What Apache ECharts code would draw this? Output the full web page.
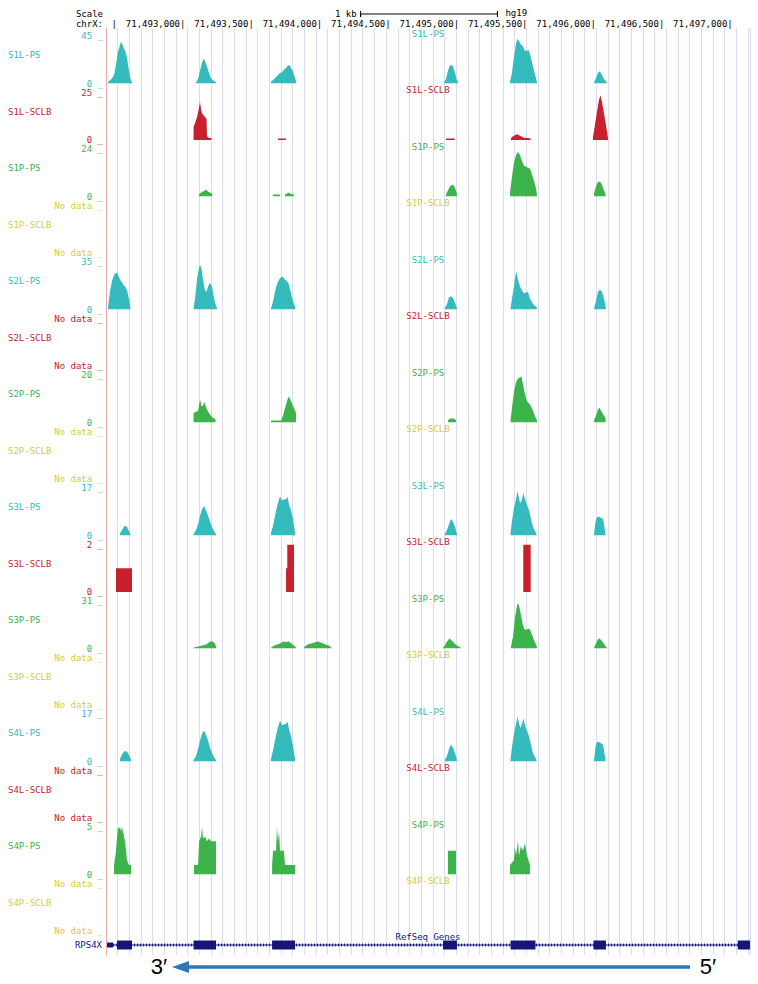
<!DOCTYPE html>
<html><head><meta charset="utf-8">
<script src="https://cdn.jsdelivr.net/npm/echarts@6/dist/echarts.min.js"></script>
<style>html,body{margin:0;padding:0;background:#fff}#c{width:758px;height:984px}</style>
</head><body><div id="c"></div>
<script>
// ---------------- DATA ----------------
const CHROM = 'chrX';
const ASSEMBLY = 'hg19';
const BASE = 71492000;               // positions below are bp offsets from chrX:71,492,000
const VIEW = [439, 5146];            // visible window
const RULER_TICKS = [500, 1000, 1500, 2000, 2500, 3000, 3500, 4000, 4500, 5000];
const SCALE_BAR = [2300, 3300];      // 1 kb

const trackNames = ['S1L-PS','S1L-SCLB','S1P-PS','S1P-SCLB','S2L-PS','S2L-SCLB','S2P-PS','S2P-SCLB',
                    'S3L-PS','S3L-SCLB','S3P-PS','S3P-SCLB','S4L-PS','S4L-SCLB','S4P-PS','S4P-SCLB'];
const trackMax   = [45, 25, 24, null, 35, null, 20, null, 17, 2, 31, null, 17, null, 5, null];

const S1L_PS = [
 [[454,2],[469,3],[483,5],[498,8],[512,18],[527,30],[542,37],[549,39.6],[556,38],[564,35],[571,33],[578,31],[586,28],[593,24],[600,18],[607,12],[615,6],[622,3],[629,1]],
 [[1097,1],[1112,4],[1126,12],[1141,20],[1152,23.5],[1163,21],[1177,16],[1192,10],[1207,5],[1221,3],[1236,2],[1243,1]],
 [[1645,2],[1667,4],[1689,7],[1711,10],[1726,11],[1740,13],[1755,15],[1770,17],[1780,17.5],[1791,15],[1806,11],[1821,5],[1831,1]],
 [[2909,1],[2924,4],[2938,12],[2953,17],[2964,17.8],[2975,16],[2990,10],[3004,3],[3012,1]],
 [[3392,2],[3406,10],[3421,25],[3436,38],[3447,42.5],[3458,40],[3472,37],[3487,35],[3501,31],[3516,31],[3527,32],[3538,28],[3553,20],[3567,12],[3582,5],[3589,1]],
 [[4006,1],[4020,5],[4035,10],[4046,11.5],[4057,10],[4072,6],[4086,3],[4101,1]]
];
const S1L_SCLB = [
 [[1079,7],[1090,9],[1104,12],[1119,17],[1126,20],[1134,16],[1141,14],[1152,13],[1163,12],[1174,11],[1177,2],[1192,1],[1210,1]],
 [[1696,0.8],[1755,0.8]],
 [[2924,0.8],[2988,0.8]],
 [[3399,1],[3414,2],[3428,2.5],[3443,3],[3458,2.5],[3472,2],[3494,1.2],[3523,1],[3542,0.8]],
 [[3998,1.5],[4013,8],[4028,15],[4042,21],[4053,23.5],[4064,20],[4079,14],[4093,8],[4104,3],[4108,1]]
];
const S1P_PS = [
 [[1119,1],[1134,2],[1148,2.5],[1163,3],[1170,3.5],[1185,2.5],[1199,2],[1214,1.5]],
 [[1658,1],[1711,1]],
 [[1747,1],[1762,1.5],[1773,2],[1784,1.5],[1799,1.2],[1813,1]],
 [[2924,1],[2938,3],[2953,5],[2968,6],[2982,5.5],[2997,3],[3004,1]],
 [[3392,2],[3406,10],[3421,17],[3436,21],[3450,22.5],[3465,21],[3480,18],[3494,15.5],[3509,15],[3523,14.5],[3538,14],[3553,11],[3567,8],[3582,4],[3589,1]],
 [[4006,1.5],[4020,5],[4035,7.5],[4050,7.5],[4064,6],[4079,3],[4090,1]]
];
const S2L_PS = [
 [[454,2],[469,14],[483,21],[494,24.5],[505,26.5],[520,27.2],[534,24],[542,22],[556,20],[567,18],[578,17],[593,14],[607,8],[618,1]],
 [[1079,1],[1090,8],[1104,22],[1119,31],[1126,33],[1137,30],[1148,22],[1163,14],[1174,13],[1185,17],[1199,19.5],[1214,17],[1229,8],[1243,3],[1250,1]],
 [[1645,1],[1660,6],[1674,13],[1689,19],[1704,22],[1718,24],[1733,24],[1747,22],[1762,21],[1777,18],[1791,12],[1806,6],[1821,2]],
 [[2916,1],[2931,4],[2946,9],[2960,9.7],[2975,8.5],[2990,5],[3004,1]],
 [[3396,1],[3406,8],[3421,17],[3432,25],[3439,28],[3450,22],[3465,17],[3480,14],[3494,12],[3509,12.5],[3523,13],[3538,8],[3560,4],[3582,2],[3589,1]],
 [[4006,1],[4020,6],[4035,13],[4050,14.5],[4064,13],[4079,8],[4093,1]]
];
const S2P_PS = [
 [[1079,4],[1097,4.5],[1112,5],[1126,9.8],[1137,7],[1148,7],[1156,8.8],[1167,7],[1177,5.5],[1192,4],[1207,2.7],[1221,2],[1240,1.3]],
 [[1645,0.8],[1718,0.8],[1733,3],[1747,6],[1762,9],[1773,11],[1784,10],[1799,8],[1813,6],[1828,4]],
 [[2938,1],[2953,1.7],[2982,1.7],[2997,1]],
 [[3396,1],[3406,6],[3421,13],[3436,17],[3450,18.5],[3465,19],[3476,19.5],[3487,16],[3501,12],[3516,9],[3531,8],[3545,7],[3560,5],[3575,2.5],[3589,1]],
 [[4006,1],[4020,3],[4035,5.5],[4046,6.2],[4057,5],[4072,3.5],[4090,2]]
];
const S3L_PS = [
 [[542,0.8],[556,2],[571,3.2],[582,3.5],[593,3],[607,1.5],[618,0.5]],
 [[1079,0.5],[1097,2],[1112,4],[1126,7],[1141,9.5],[1156,10.6],[1170,9],[1185,7],[1199,5],[1214,3],[1229,1.5],[1243,0.5]],
 [[1645,1],[1660,3.5],[1674,7],[1689,10.5],[1704,13],[1711,14],[1726,12.5],[1740,13],[1755,13],[1766,13.8],[1777,11],[1791,9],[1806,6],[1821,0.8]],
 [[2916,0.5],[2931,2],[2946,4],[2960,5.9],[2975,5],[2990,3],[3004,0.5]],
 [[3396,1],[3406,5],[3421,10],[3436,13],[3447,16],[3458,13],[3468,11.5],[3480,13],[3490,15.3],[3501,13],[3516,11],[3531,9],[3545,6],[3560,3],[3575,1.5],[3586,0.5]],
 [[4006,0.5],[4017,5],[4028,6.5],[4042,6.8],[4057,6.3],[4072,6],[4090,0.5]]
];
const S3L_SCLB = [
 [[512,1],[629,1]],
 [[1755,1],[1764,1],[1764,2],[1813,2]],
 [[3489,2],[3543,2]]
];
const S3P_PS = [
 [[1079,0.5],[1097,1],[1119,1.5],[1141,2],[1163,2.5],[1177,3],[1192,4],[1207,4.7],[1221,4.5],[1236,3],[1247,0.5]],
 [[1645,0.5],[1660,1.5],[1682,2.5],[1704,3],[1726,4],[1740,4.5],[1755,4],[1770,4.6],[1784,4],[1799,3],[1813,2],[1828,0.5]],
 [[1886,0.5],[1901,2],[1923,3],[1945,3.5],[1967,4],[1989,4.5],[2003,4],[2025,3.5],[2047,2.5],[2069,2],[2087,0.5]],
 [[2902,0.5],[2916,2],[2931,4.5],[2950,6.5],[2968,5],[2990,3],[3012,1.5],[3034,0.5]],
 [[3399,1],[3414,8],[3428,20],[3443,28],[3450,29.7],[3461,27],[3472,22],[3487,15],[3501,12],[3516,12.5],[3531,13],[3545,11],[3560,7],[3575,4],[3589,1]],
 [[4006,0.5],[4020,3.5],[4035,6],[4046,6.5],[4057,5.5],[4072,4],[4086,2],[4101,0.5]]
];
const S4L_PS = [
 [[542,1],[556,2.5],[571,3.6],[586,3.8],[600,3],[615,1.5],[622,0.5]],
 [[1079,0.5],[1097,2],[1112,4.5],[1126,7.5],[1141,10],[1156,11],[1170,9.5],[1185,7.5],[1199,5],[1214,3],[1229,1.5],[1243,0.5]],
 [[1645,1],[1660,4],[1674,7.5],[1689,11],[1704,13.5],[1711,14.6],[1726,13],[1740,13.3],[1755,13.5],[1766,14.2],[1777,11.5],[1791,9],[1806,5.5],[1821,0.8]],
 [[2916,0.5],[2931,2],[2946,4.5],[2960,6],[2975,5],[2990,3],[3004,0.5]],
 [[3396,1],[3406,5],[3421,10],[3436,13.5],[3447,16],[3458,13.5],[3468,12],[3480,13.5],[3490,15.5],[3501,13],[3516,11],[3531,9],[3545,6],[3560,3],[3575,1.5],[3586,0.5]],
 [[4006,0.5],[4017,5.5],[4028,7],[4042,7],[4057,6.5],[4072,6],[4090,0.5]]
];
const S4P_PS = [
 [[498,1],[512,2.5],[520,4],[527,5],[534,4.8],[542,5],[549,4.5],[556,5],[564,4.5],[571,4],[578,3.5],[586,2.5],[593,1.5],[607,1],[622,1]],
 [[1082,1],[1112,1],[1119,3.5],[1134,4],[1141,5],[1148,3.8],[1163,4],[1177,3.5],[1192,3.8],[1207,3.5],[1221,3.5],[1243,3.5]],
 [[1653,1],[1660,2.5],[1682,2.5],[1689,5],[1696,3.5],[1704,4.5],[1711,2.5],[1740,2.5],[1747,1],[1821,1]],
 [[2938,2.5],[2997,2.5]],
 [[3392,1],[3421,1.5],[3428,3],[3436,2],[3450,3.5],[3458,2],[3472,3],[3487,2.5],[3501,3.3],[3516,2],[3538,1]]
];
const trackSignals = {
  'S1L-PS': S1L_PS, 'S1L-SCLB': S1L_SCLB, 'S1P-PS': S1P_PS,
  'S2L-PS': S2L_PS, 'S2P-PS': S2P_PS,
  'S3L-PS': S3L_PS, 'S3L-SCLB': S3L_SCLB, 'S3P-PS': S3P_PS,
  'S4L-PS': S4L_PS, 'S4P-PS': S4P_PS
};

const GENE_TRACK = 'RefSeq Genes';
const GENE_NAME = 'RPS4X';
const GENE_SPAN = [447, 5146];
const GENE_EXONS = [[447,490,'utr'],[520,629,'cds'],[1079,1243,'cds'],[1653,1821,'cds'],[2902,3004,'cds'],[3396,3578,'cds'],[4002,4093,'cds'],[5057,5146,'cds']];

// ---------------- STYLE / LAYOUT ----------------
const COLORS = { 'L-PS': '#35babd', 'P-PS': '#3cb44b', 'L-SCLB': '#c8202c', 'P-SCLB': '#d2cc3c' };
const NAVY = '#16167a';
const FONT = '"DejaVu Sans Mono", monospace';
const LEFT = 106, RIGHT = 8, TOP0 = 36, PERIOD = 56.5, TRACK_H = 47.5;
const GUIDE_PX = 11.67;

function colorOf(name) {
  const k = name.slice(2); // e.g. 'L-PS'
  return COLORS[k];
}
function joinPeaks(peaks) {
  const out = [];
  peaks.forEach((p, i) => {
    if (i) out.push([(peaks[i - 1][peaks[i - 1].length - 1][0] + p[0][0]) / 2, null]);
    p.forEach(pt => out.push(pt));
  });
  return out;
}

const grid = [], xAxis = [], yAxis = [], series = [];
trackNames.forEach((name, i) => {
  const top = TOP0 + PERIOD * i;
  const col = colorOf(name);
  const M = trackMax[i];
  grid.push({ left: LEFT, right: RIGHT, top: top, height: TRACK_H });
  xAxis.push({ type: 'value', gridIndex: i, min: VIEW[0], max: VIEW[1], show: false });
  yAxis.push({
    type: 'value', gridIndex: i, min: 0, max: M == null ? 1 : M, interval: M == null ? 1 : M,
    axisLine: { show: false }, axisTick: { show: false }, splitLine: { show: false },
    axisLabel: { show: true, showMinLabel: true, showMaxLabel: true, margin: 3,
      formatter: v => (M == null ? 'No data' : String(v)) + ' _',
      color: col, fontFamily: FONT, fontSize: 9, padding: [0, 0, 3, 0] }
  });
  if (trackSignals[name]) {
    series.push({
      type: 'line', name: name, xAxisIndex: i, yAxisIndex: i, data: joinPeaks(trackSignals[name]),
      symbol: 'none', showSymbol: false, silent: true, connectNulls: false,
      lineStyle: { width: 0, color: col }, areaStyle: { color: col, opacity: 1 }
    });
  }
});
// gene track grid (16)
grid.push({ left: LEFT, right: RIGHT, top: 940, height: 10 });
xAxis.push({ type: 'value', gridIndex: 16, min: VIEW[0], max: VIEW[1], show: false });
yAxis.push({ type: 'value', gridIndex: 16, min: 0, max: 1, show: false });
series.push({ type: 'line', xAxisIndex: 16, yAxisIndex: 16, symbol: 'none', silent: true,
  data: [[GENE_SPAN[0], 0.5], [GENE_SPAN[1], 0.5]], lineStyle: { color: NAVY, width: 1 } });
series.push({ type: 'line', xAxisIndex: 16, yAxisIndex: 16, symbol: 'none', silent: true,
  data: [[GENE_SPAN[0], 0.5], [GENE_SPAN[1], 0.5]], lineStyle: { color: NAVY, width: 3, type: [1, 2] } });
series.push({ type: 'custom', xAxisIndex: 16, yAxisIndex: 16, silent: true,
  data: GENE_EXONS.map(e => [e[0], e[1], e[2] === 'utr' ? 5 : 9]),
  renderItem: (params, api) => {
    const s = api.coord([api.value(0), 0.5]);
    const e = api.coord([api.value(1), 0.5]);
    const h = api.value(2);
    return { type: 'rect', shape: { x: s[0], y: s[1] - h / 2, width: e[0] - s[0], height: h }, style: { fill: NAVY } };
  } });
// guides grid (17)
grid.push({ left: LEFT, right: RIGHT, top: 28, height: 927 });
xAxis.push({ type: 'value', gridIndex: 17, min: 0, max: (758 - LEFT - RIGHT) / GUIDE_PX, interval: 1,
  axisLine: { show: false }, axisTick: { show: false }, axisLabel: { show: false },
  splitLine: { show: true, lineStyle: { color: '#dcdcef', width: 1 } } });
yAxis.push({ type: 'value', gridIndex: 17, min: 0, max: 1, axisTick: { show: false }, axisLabel: { show: false },
  splitLine: { show: false }, axisLine: { show: true, lineStyle: { color: '#f3a9a9', width: 1 } } });

const chart = echarts.init(document.getElementById('c'), null, { renderer: 'svg' });
chart.setOption({ animation: false, backgroundColor: '#fff', grid, xAxis, yAxis, series });

// ---------------- TEXT / ANNOTATIONS ----------------
function fmt(n) { return String(n).replace(/\B(?=(\d{3})+(?!\d))/g, ','); }
function txt(text, x, y, fill, align, font) {
  return { type: 'text', silent: true, z: 50,
    style: { text, x, y, fill, font: font || ('9px ' + FONT), textAlign: align || 'left', textVerticalAlign: 'middle' } };
}
const px = v => chart.convertToPixel({ xAxisIndex: 0 }, v);
const g = [];
g.push(txt('Scale', 103, 14, '#000', 'right'));
g.push(txt(CHROM + ':', 103, 24, '#000', 'right'));
RULER_TICKS.forEach(v => {
  g.push(txt(v === 500 ? '|' : fmt(BASE + v) + '|', px(v) + 2.7, 24, '#000', 'right'));
});
const sb0 = px(SCALE_BAR[0]), sb1 = px(SCALE_BAR[1]);
g.push(txt('1 kb', sb0 - 4, 14, '#000', 'right'));
g.push({ type: 'polyline', silent: true, z: 50, shape: { points: [[sb0, 11], [sb0, 17], [sb0, 14], [sb1, 14], [sb1, 11], [sb1, 17]] }, style: { stroke: '#000', lineWidth: 1, fill: null } });
g.push(txt(ASSEMBLY, sb1 + 8, 13, '#000', 'left'));
const CX = LEFT + (758 - LEFT - RIGHT) / 2;
trackNames.forEach((name, i) => {
  const top = TOP0 + PERIOD * i;
  const col = colorOf(name);
  g.push(txt(name, 8, top + 19, col, 'left'));
  g.push(txt(name, CX, top - 2.5, col, 'center'));
});
g.push(txt(GENE_TRACK, CX, 937, NAVY, 'center'));
g.push(txt(GENE_NAME, 102, 945, NAVY, 'right'));
// direction arrow
const ARROW = '#2f77bd';
g.push({ type: 'line', silent: true, z: 50, shape: { x1: 690, y1: 967, x2: 184, y2: 967 }, style: { stroke: ARROW, lineWidth: 3.5 } });
g.push({ type: 'polygon', silent: true, z: 50, shape: { points: [[172, 967], [189, 961], [189, 973]] }, style: { fill: ARROW } });
g.push(txt('3\u2032', 159, 966, '#000', 'center', '22px "Liberation Sans", sans-serif'));
g.push(txt('5\u2032', 708, 966, '#000', 'center', '22px "Liberation Sans", sans-serif'));
chart.setOption({ graphic: g });
</script></body></html>
